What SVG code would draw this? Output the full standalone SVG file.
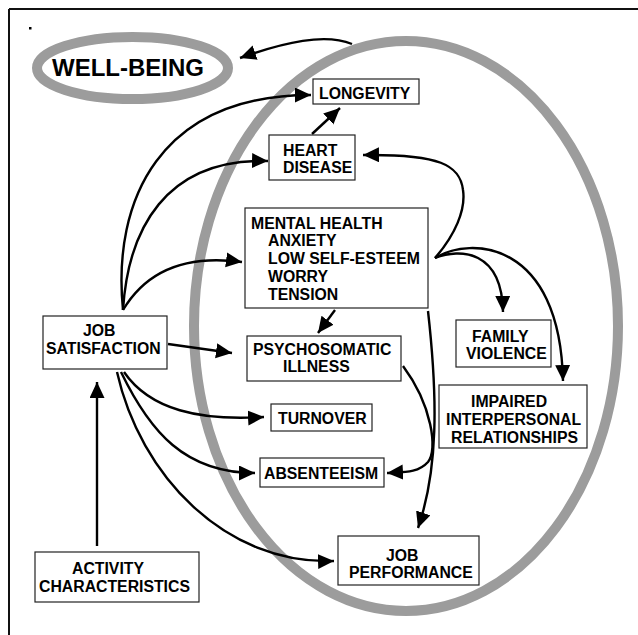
<svg xmlns="http://www.w3.org/2000/svg" width="638" height="635" viewBox="0 0 638 635">
<style>
.box{fill:#fff;stroke:#222;stroke-width:1.2}
.t{font-family:"Liberation Sans",Arial,sans-serif;font-weight:bold;font-size:15.8px;fill:#000}
.c{fill:none;stroke:#000;stroke-width:2.4}
.ring{fill:none;stroke:#9c9c9c;stroke-width:10}
</style>
<defs>
<marker id="ah" markerUnits="userSpaceOnUse" markerWidth="18" markerHeight="16" refX="16" refY="7.5" orient="auto">
<path d="M0,0 L16,7.5 L0,15 Z" fill="#000"/>
</marker>
</defs>
<rect width="638" height="635" fill="#fff"/>
<path d="M9,9 H638 M9,9 V635" fill="none" stroke="#111" stroke-width="2"/>
<rect x="29" y="27" width="2.5" height="2.5" fill="#000"/>
<g id="scope"><ellipse class="ring" cx="406" cy="326" rx="212" ry="285"/></g>
<g id="wellbeing"><ellipse class="ring" cx="132.5" cy="68" rx="95.5" ry="31"/>
<text class="t" x="52" y="76" style="font-size:24px">WELL-BEING</text></g>
<g id="connectors">
<path class="c" d="M352,44 C325,33 285,42 240,58" marker-end="url(#ah)"/>
<path class="c" d="M123,310 C112,200 160,95 311,95" marker-end="url(#ah)"/>
<path class="c" d="M123,310 C128,230 165,158 268,161" marker-end="url(#ah)"/>
<path class="c" d="M123,310 C148,268 190,255 242,262" marker-end="url(#ah)"/>
<path class="c" d="M168,344 L232,353" marker-end="url(#ah)"/>
<path class="c" d="M124,372 C150,410 200,421 264,417" marker-end="url(#ah)"/>
<path class="c" d="M121,372 C150,432 185,473 255,473" marker-end="url(#ah)"/>
<path class="c" d="M117,372 C140,475 225,565 334,561" marker-end="url(#ah)"/>
<path class="c" d="M97,546 V382" marker-end="url(#ah)"/>
<path class="c" d="M312,134 L340,108" marker-end="url(#ah)"/>
<path class="c" d="M435,258 C455,235 466,210 463,190 C460,165 440,154 363,155" marker-end="url(#ah)"/>
<path class="c" d="M435,258 C460,248 502,250 503,312" marker-end="url(#ah)"/>
<path class="c" d="M435,258 C470,236 560,240 563,381" marker-end="url(#ah)"/>
<path class="c" d="M335,310 L318,333" marker-end="url(#ah)"/>
<path class="c" d="M428,311 C438,400 438,470 418,528" marker-end="url(#ah)"/>
<path class="c" d="M403,366 C432,405 438,450 428,462 C418,473 405,472 387,473" marker-end="url(#ah)"/>
</g>
<g id="longevity"><rect class="box" x="313" y="79" width="106" height="25"/><text class="t" x="319" y="99">LONGEVITY</text></g>
<g id="heart"><rect class="box" x="269" y="135" width="86" height="45"/><text class="t" x="283" y="156">HEART</text><text class="t" x="283" y="173">DISEASE</text></g>
<g id="mental"><rect class="box" x="245" y="208" width="183" height="100"/>
<text class="t" x="251" y="229">MENTAL HEALTH</text>
<text class="t" x="268" y="246">ANXIETY</text>
<text class="t" x="268" y="264">LOW SELF-ESTEEM</text>
<text class="t" x="268" y="282">WORRY</text>
<text class="t" x="268" y="300">TENSION</text></g>
<g id="jobsat"><rect class="box" x="43" y="316" width="124" height="53"/><text class="t" x="83" y="336">JOB</text><text class="t" x="46" y="354">SATISFACTION</text></g>
<g id="psycho"><rect class="box" x="247" y="336" width="154" height="45"/><text class="t" x="253" y="355">PSYCHOSOMATIC</text><text class="t" x="283" y="372">ILLNESS</text></g>
<g id="turnover"><rect class="box" x="271" y="404" width="101" height="27"/><text class="t" x="278" y="424">TURNOVER</text></g>
<g id="absent"><rect class="box" x="260" y="458" width="124" height="29"/><text class="t" x="264" y="479">ABSENTEEISM</text></g>
<g id="family"><rect class="box" x="456" y="320" width="95" height="47"/><text class="t" x="472" y="342">FAMILY</text><text class="t" x="466" y="359">VIOLENCE</text></g>
<g id="impaired"><rect class="box" x="439" y="385" width="148" height="63"/><text class="t" x="471" y="407">IMPAIRED</text><text class="t" x="446" y="425">INTERPERSONAL</text><text class="t" x="451" y="443">RELATIONSHIPS</text></g>
<g id="jobperf"><rect class="box" x="338" y="536" width="141" height="49"/><text class="t" x="386" y="561">JOB</text><text class="t" x="349" y="578">PERFORMANCE</text></g>
<g id="activity"><rect class="box" x="35" y="552" width="164" height="50"/><text class="t" x="72" y="574">ACTIVITY</text><text class="t" x="39" y="592">CHARACTERISTICS</text></g>
</svg>
